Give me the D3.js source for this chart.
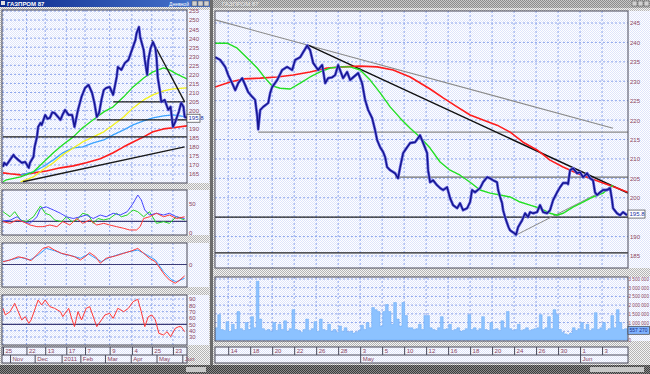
<!DOCTYPE html>
<html>
<head>
<meta charset="utf-8">
<script src="https://cdn.jsdelivr.net/npm/d3@7"></script>
<style>
body { margin: 0; background: #c0c0c0; }
svg { display: block; font-family: "Liberation Sans", "DejaVu Sans", sans-serif; }
</style>
</head>
<body>
<script>
// ---- left window (daily, trading-day index 0..157 = 25 Oct 2010 .. 3 Jun 2011)
var leftClose = [[0,169],[1,171.2],[3,170],[6,172.8],[9,175.6],[10,174.5],[13,172.8],[16,171.2],[19,171.7],[22,168.4],
  [23,171.2],[26,174.5],[27,180],[29,185.5],[30,191],[32,193.2],[33,192.1],[36,197.6],[38,195.5],[40,196],[42,199],[44,198.7],
  [47,196.5],[49,194.9],[51,198],[53,200.4],[56,197.6],[59,197.6],[61,191],[64,200.4],[67,207.6],[70,212.5],[73,214.2],
  [76,209.8],[78,204.3],[80,196.5],[82,198.7],[84,205.9],[86,211.4],[88,212.5],[91,213.1],[94,208.7],[97,218.6],[98,224.1],
  [101,222.5],[104,226.3],[107,228],[110,233.5],[113,239],[114,242.9],[116,246.2],[117,240.7],[120,233.5],[121,228],
  [123,219.7],[124,228],[126,234.6],[128,237.9],[130,234.6],[131,229.1],[132,218.6],[134,210.3],[135,204.8],[138,205.9],
  [141,200.4],[143,202.1],[145,191],[147,193.8],[150,199.3],[152,204.3],[154,202.1],[155,196.5],[157,196]];
var leftGreen = [[0,160.7],[3,161.8],[15,163.4],[26,166.2],[34,171.2],[43,176.7],[51,181.1],[60,185.5],[68,190.5],[77,194.9],
  [86,199.3],[94,202.1],[103,207.6],[111,213.1],[120,218],[128,221.4],[137,223.6],[142,222.5],[148,220.3],[157,217.5]];
var leftYellow = [[15,160.7],[26,163.4],[34,167.3],[43,171.2],[51,175.6],[60,179.4],[68,182.7],[77,185.5],[86,188.3],
  [94,192.1],[103,196.5],[111,201.5],[120,205.9],[128,208.7],[137,210.9],[145,212],[157,212.5]];
var leftBlue = [[15,164.5],[26,166.2],[34,169],[43,172.8],[51,176.7],[60,179.4],[68,180],[77,182.2],[86,183.8],[94,186.6],
  [103,189.4],[111,192.1],[120,194.3],[128,196],[137,197.1],[145,197.6],[157,196.5]];
var leftRed = [[0,165.6],[6,165.1],[15,164.5],[26,165.6],[37,166.7],[49,168.4],[60,169.5],[71,171.2],[83,173.4],[94,176.7],
  [103,180],[111,182.7],[120,185.5],[128,188.3],[137,189.9],[145,190.5],[157,191.6]];
var leftLevels = [[0,157,185.5],[80,157,194.9],[94,155,204.8]];      // [from, to, price]
var leftTrends = [[17,160.7,155,180],[127,239,155,204.8]];             // [i0, p0, i1, p1]

var dmiBlue = [[0,21],[6,22],[12,28],[17,19.5],[23,16.7],[29,28],[32,42.5],[37,45],[43,39.7],[49,34],[54,28],[60,25],[66,28],
  [71,31],[77,25],[83,31],[88,28],[94,34],[100,31],[106,36.7],[111,51],[115,65.5],[118,57],[121,39.7],[125,31],[131,34],
  [137,31],[142,34],[148,28],[155,25]];
var dmiGreen = [[0,36.7],[6,28],[10,36.7],[15,22.4],[20,19.5],[26,28],[32,46.6],[36,34],[40,31],[44,22.4],[50,19.5],[54,28],
  [59,19.5],[63,22.4],[68,34],[73,31],[77,16.7],[81,25],[86,22.4],[91,25],[97,34],[101,28],[106,31],[111,39.7],[115,36.7],
  [120,28],[125,36.7],[131,16.7],[137,19.5],[142,16.7],[148,28],[155,22.4]];
var dmiRed = [[0,19.5],[6,16.7],[12,22.4],[17,19.5],[23,13.8],[29,10.9],[34,10.9],[40,13.8],[46,10.9],[51,19.5],[57,13.8],
  [63,25],[68,16.7],[74,22.4],[80,13.8],[86,16.7],[91,13.8],[97,10.9],[103,8.1],[108,5.2],[114,5.2],[117,10.9],[120,25],
  [125,28],[131,34],[137,28],[142,31],[148,25],[155,28]];
var macdRed = [[0,1.3],[6,2.1],[13,3.6],[19,2.9],[24,1.8],[30,5.2],[34,7.5],[39,8.3],[44,6.7],[50,5.2],[56,4.4],[61,3.6],
  [66,2.1],[70,3.6],[74,5.5],[79,3.6],[83,0.6],[88,2.9],[96,4],[103,5.2],[110,6.4],[115,7.5],[120,5.2],[125,2.9],[130,1.3],
  [134,-1.8],[138,-4.9],[142,-7.2],[147,-8.7],[151,-7.2],[155,-5.3]];
var macdBlue = [[0,1.3],[6,2.1],[15,3.3],[23,2.1],[30,4.4],[37,7.5],[44,6.4],[51,4.9],[59,4],[66,2.9],[73,4.9],[79,2.9],
  [84,1.3],[91,3.3],[100,4.9],[108,6],[115,6.7],[123,4.4],[130,2.1],[137,-3.3],[144,-7.2],[148,-8],[155,-6.4]];
var rsiLine = [[0,75.3],[2,64.8],[6,70],[10,83.2],[13,70],[16,56.9],[19,62.1],[22,51.6],[24,56.9],[27,72.6],[30,88.4],
  [33,80.6],[36,88.4],[40,77.9],[44,75.3],[49,70],[51,62.1],[56,75.3],[59,56.9],[61,46.3],[64,70],[67,56.9],[71,75.3],
  [74,77.9],[78,56.9],[80,46.3],[84,56.9],[87,64.8],[91,67.4],[94,59.5],[98,75.3],[103,70],[107,75.3],[111,85.8],[115,89.6],
  [118,70],[121,46.3],[124,62.1],[127,64.8],[130,56.9],[133,35.8],[137,33.2],[140,38.4],[143,30.5],[147,43.7],[150,46.3],
  [152,46.3],[155,38.4]];

var leftDayTicks = [0, 20, 36, 54, 70, 91, 110, 127, 145];
var leftDayLabels = ["25", "22", "13", "17", "7", "9", "4", "25", "23"];
var leftMonthTicks = [6, 27, 50, 66, 87, 109, 131, 153];
var leftMonthLabels = ["Nov", "Dec", "2011", "Feb", "Mar", "Apr", "May", "Jun"];
var leftPriceTicks = d3.range(165, 256, 5);
var rsiTicks = [30, 40, 50, 60, 70, 80, 90];

// ---- right window (intraday, x in trading days from 13 Apr 2011)
var rightClose = [[-0.18,236.2],[0.27,235.5],[0.73,233.7],[1.0,231.6],[1.36,229.5],[1.64,227.7],[1.91,229.5],[2.27,230.8],
  [2.55,229],[2.82,227.2],[3.18,226],[3.45,225.2],[3.64,221],[3.73,217.6],[3.91,222.6],[4.18,223.4],[4.64,224.4],[4.82,227],
  [5.0,228.5],[5.45,230.3],[5.91,232.9],[6.36,233.7],[6.82,232.9],[7.09,235.5],[7.55,236.2],[8.18,239.2],[8.45,238],
  [8.73,234.7],[9.18,232.9],[9.55,234.2],[9.82,229.5],[10.09,230.8],[10.45,231],[10.73,231.6],[11.0,234.2],[11.45,230.8],
  [11.82,232.4],[12.09,230.3],[12.36,231],[12.82,232.1],[13.18,229.5],[13.45,225.2],[13.73,222.6],[14.09,220.5],
  [14.36,217.4],[14.55,214.8],[14.82,213],[15.09,211.8],[15.27,210.5],[15.45,207.9],[15.73,207.1],[16.18,206.3],[16.45,205],
  [16.64,207.9],[16.91,211.5],[17.27,213],[17.55,214.1],[18.0,214.3],[18.45,216.1],[18.73,214.1],[19.09,211.5],[19.18,207.1],
  [19.36,204],[19.64,204.5],[20.0,203.2],[20.27,202.5],[20.55,202],[20.91,202.7],[21.18,199.9],[21.45,198.1],[21.82,197.3],
  [22.09,198.6],[22.36,196.8],[22.73,197.3],[23.0,198.9],[23.18,202],[23.45,201.4],[23.91,202.5],[24.18,204],[24.55,205.3],
  [24.82,205],[25.09,204.5],[25.45,204],[25.55,202],[25.73,200.2],[25.91,198.6],[26.0,196.8],[26.18,195],[26.36,193.5],
  [26.5,192.4],[26.64,191.6],[26.91,191.1],[27.18,190.5],[27.36,192.4],[27.73,194.2],[28.0,196],[28.27,195],[28.45,196.3],
  [28.73,196],[29.09,196.3],[29.36,198.1],[29.64,196.3],[30.0,196],[30.27,196.8],[30.55,199.4],[30.91,201.4],[31.18,202.7],
  [31.45,203.8],[31.82,203.8],[31.91,203.5],[32.09,207.1],[32.36,207.6],[32.73,206.3],[33.0,206.6],[33.27,205.3],
  [33.64,206.3],[33.91,205],[34.18,204.5],[34.36,201.4],[34.55,200.7],[34.82,201.4],[35.09,202],[35.45,202],[35.73,202.5],
  [35.91,199.4],[36.0,197.3],[36.36,196],[36.64,195.5],[36.91,196.3],[37.27,195.5]];
var rightGreen = [[-0.2,239.8],[0.91,239.8],[1.82,238.5],[2.73,236],[3.64,233.4],[4.36,230.8],[5.0,228.8],[5.73,228.2],
  [6.64,228],[7.55,229.5],[8.45,231.1],[9.36,232.4],[10.27,233.4],[11.18,233.7],[12.09,233.7],[13.0,232.9],[13.91,230.3],
  [14.82,227],[15.73,223.4],[16.64,220.5],[17.55,217.9],[18.45,215.6],[19.36,212.8],[20.27,209.2],[21.18,207.1],
  [22.09,205.8],[23.0,204],[23.91,202],[24.82,201.2],[25.73,200.7],[26.64,200.2],[27.55,198.9],[28.45,198.1],[29.36,197.3],
  [30.27,196],[30.91,195.5],[31.45,196],[32.36,197.6],[33.27,198.9],[34.18,200.2],[35.09,201.2],[35.73,202.7],[36.0,203.2]];
var rightRed = [[-0.2,228.5],[1.18,229.8],[2.36,230.6],[3.91,230.8],[5.45,231.1],[6.91,231.6],[8.45,232.4],[10.0,233.4],
  [11.45,233.7],[13.0,233.9],[14.55,233.7],[16.0,232.9],[17.55,231.1],[19.36,228],[20.55,225.7],[21.82,223.4],[23.0,221.3],
  [24.18,220],[25.45,218.7],[26.64,216.9],[27.82,214.3],[29.09,212.3],[30.27,209.7],[31.45,207.9],[32.73,206.3],[33.91,205],
  [35.09,203.8],[36.36,202.5],[37.36,201.4]];
// volume, thousands, one value per quarter day from day -0.2
var rightVolume = [700,1450,600,550,1050,500,900,600,1630,650,550,1000,600,1340,700,3370,1200,650,550,600,
  500,1000,550,900,600,1100,500,650,1740,600,550,450,600,1200,550,650,1050,500,1200,600,
  550,900,500,600,450,800,500,700,450,500,400,450,550,850,600,1000,700,1860,1740,1630,
  800,1630,2035,1630,900,2150,1200,800,2150,1400,700,700,600,650,900,600,1400,1400,700,600,
  550,700,1340,600,650,900,550,600,700,500,550,650,1450,600,700,550,650,1340,600,550,
  1000,600,650,550,1100,700,1630,650,550,600,900,550,600,700,550,600,650,700,1450,600,
  700,1340,650,1740,1450,600,450,350,300,400,700,550,650,1000,600,900,550,650,1570,600,
  700,1000,550,650,1400,700,1740,1000,600,650,600];
var rightLevels = [[3.73,37.36,216.9,"#8a8a8a"],[16.18,37.36,205.3,"#707070"],[-0.2,37.36,195,"#202020"],[-0.2,37.36,185.8,"#202020"]];
var rightTrends = [[-0.18,245.8,36.0,217.9,"#8a8a8a",1.1],[8.27,239.3,37.36,201.2,"#101010",1.5],[27.18,190.4,35.73,202.7,"#8a8a8a",1]];

var rightDayTicks = d3.range(1, 36, 2);
var rightDayLabels = ["14","18","20","22","26","28","3","5","10","12","16","18","20","24","26","30","1","3"];
var rightMonthTicks = [13, 33];
var rightMonthLabels = ["May", "Jun"];
var rightPriceTicks = d3.range(185, 246, 5);
var volumeTicks = d3.range(0, 3501, 500);
var lastPrice = 195.8;
var lastVolume = 557.27;

// ---- scales
var xL = d3.scaleLinear().domain([0, 157]).range([3, 187]);
var yL = d3.scaleLinear().domain([165, 255]).range([174, 11]);
var yDmi = d3.scaleLinear().domain([0, 50]).range([233, 204]);
var yMacd = d3.scaleLinear().domain([-10, 10]).range([286, 243]);
var yRsi = d3.scaleLinear().domain([30, 90]).range([337, 299]);
var xR = d3.scaleLinear().domain([-0.2, 37.36]).range([215, 628]);
var yR = d3.scaleLinear().domain([185, 245]).range([256, 23]);
var yV = d3.scaleLinear().domain([0, 3500]).range([340, 279]);

var svg = d3.select("body").append("svg").attr("width", 650).attr("height", 374);
var defs = svg.append("defs");

function checker(id, a, b) {
  var p = defs.append("pattern").attr("id", id).attr("width", 2).attr("height", 2)
    .attr("patternUnits", "userSpaceOnUse");
  p.append("rect").attr("width", 2).attr("height", 2).attr("fill", a);
  p.append("rect").attr("width", 1).attr("height", 1).attr("fill", b);
  p.append("rect").attr("x", 1).attr("y", 1).attr("width", 1).attr("height", 1).attr("fill", b);
}
checker("bgGray", "#f4f4f4", "#b4b4b4");
checker("plotBg", "#ffffff", "#dfe5fb");
checker("darkBar", "#8a8a8a", "#3c3c3c");
checker("titleGray", "#c8c8c8", "#8c8c8c");
var grad = defs.append("linearGradient").attr("id", "titleBlue");
grad.append("stop").attr("offset", "0%").attr("stop-color", "#0c2a8c");
grad.append("stop").attr("offset", "100%").attr("stop-color", "#4a78d0");

// background + window chrome
svg.append("rect").attr("width", 650).attr("height", 374).attr("fill", "url(#bgGray)");
svg.append("rect").attr("x", 0).attr("y", 0).attr("width", 211).attr("height", 7).attr("fill", "url(#titleBlue)");
svg.append("rect").attr("x", 1).attr("y", 1).attr("width", 4).attr("height", 4).attr("fill", "#e0e0e0");
svg.append("text").attr("x", 7).attr("y", 6).attr("font-size", 6).attr("font-weight", "bold")
  .attr("fill", "#ffffff").text("ГАЗПРОМ 87");
svg.append("text").attr("x", 169).attr("y", 6).attr("font-size", 5).attr("fill", "#ffffff").text("Дневной");
[192, 198, 204].forEach(function (bx) {
  svg.append("rect").attr("x", bx).attr("y", 1).attr("width", 5).attr("height", 5)
    .attr("fill", "#d0d0d0").attr("stroke", "#505050").attr("stroke-width", 0.5);
});
svg.append("rect").attr("x", 213).attr("y", 0).attr("width", 437).attr("height", 8).attr("fill", "url(#titleGray)");
svg.append("text").attr("x", 222).attr("y", 6).attr("font-size", 6).attr("fill", "#e8e8e8").text("ГАЗПРОМ 87");
[632, 638, 644].forEach(function (bx) {
  svg.append("rect").attr("x", bx).attr("y", 1).attr("width", 5).attr("height", 5)
    .attr("fill", "#d0d0d0").attr("stroke", "#505050").attr("stroke-width", 0.5);
});
svg.append("rect").attr("x", 210).attr("y", 0).attr("width", 3).attr("height", 374).attr("fill", "#6c6c6c");
svg.append("rect").attr("x", 0).attr("y", 365).attr("width", 650).attr("height", 9).attr("fill", "url(#darkBar)");
svg.append("rect").attr("x", 186).attr("y", 367).attr("width", 20).attr("height", 5).attr("fill", "#c8c8c8");
svg.append("rect").attr("x", 590).attr("y", 367).attr("width", 54).attr("height", 5).attr("fill", "#c8c8c8");

// panels
var clipN = 0;
function panel(x0, y0, x1, y1, axisRight) {
  svg.append("rect").attr("x", x1).attr("y", y0).attr("width", axisRight - x1).attr("height", y1 - y0)
    .attr("fill", "url(#plotBg)");
  svg.append("rect").attr("x", x0).attr("y", y0).attr("width", x1 - x0).attr("height", y1 - y0)
    .attr("fill", "url(#plotBg)");
  var id = "clip" + (clipN++);
  defs.append("clipPath").attr("id", id).append("rect")
    .attr("x", x0).attr("y", y0).attr("width", x1 - x0).attr("height", y1 - y0);
  var g = svg.append("g").attr("clip-path", "url(#" + id + ")");
  var frame = function () {
    svg.append("rect").attr("x", x0).attr("y", y0).attr("width", x1 - x0).attr("height", y1 - y0)
      .attr("fill", "none").attr("stroke", "#4a4a5a").attr("stroke-width", 1);
  };
  return { g: g, frame: frame, x0: x0, x1: x1, y0: y0, y1: y1 };
}

function vgrid(p, xs, ticks) {
  p.g.selectAll(null).data(ticks).enter().append("line")
    .attr("x1", function (d) { return xs(d); }).attr("x2", function (d) { return xs(d); })
    .attr("y1", p.y0).attr("y2", p.y1)
    .attr("stroke", "#8ea6ec").attr("stroke-dasharray", "2,2");
}
function hgrid(p, ys, ticks) {
  p.g.selectAll(null).data(ticks).enter().append("line")
    .attr("x1", p.x0).attr("x2", p.x1)
    .attr("y1", function (d) { return ys(d); }).attr("y2", function (d) { return ys(d); })
    .attr("stroke", "#8ea6ec").attr("stroke-dasharray", "2,2");
}
function yAxis(xpos, ys, ticks, fmt, size) {
  var ax = svg.append("g").attr("transform", "translate(" + xpos + ",0)")
    .call(d3.axisRight(ys).tickValues(ticks).tickSize(0).tickPadding(2).tickFormat(fmt || d3.format("d")));
  ax.select(".domain").remove();
  ax.selectAll("text").attr("font-size", size || 6).attr("fill", "#8c4660")
    .attr("font-family", "Liberation Sans, sans-serif");
  return ax;
}
function path(g, data, xs, ys, color, w) {
  g.append("path").datum(data)
    .attr("d", d3.line().x(function (d) { return xs(d[0]); }).y(function (d) { return ys(d[1]); }))
    .attr("fill", "none").attr("stroke", color).attr("stroke-width", w)
    .attr("stroke-linejoin", "round");
}
function priceLine(g, data, xs, ys) {
  path(g, data, xs, ys, "#6b6be0", 2.8);
  path(g, data, xs, ys, "#14148e", 1.4);
}
function tag(x, y, w, txt, fill, color, size) {
  svg.append("rect").attr("x", x).attr("y", y - 4).attr("width", w).attr("height", 8)
    .attr("fill", fill).attr("stroke", "#404040").attr("stroke-width", 0.7);
  svg.append("text").attr("x", x + 1.5).attr("y", y + 2).attr("font-size", size || 6).attr("fill", color).text(txt);
}
function dateAxis(xs, x0, x1, dayTicks, dayLabels, monthTicks, monthLabels) {
  var g = svg.append("g");
  g.append("rect").attr("x", x0).attr("y", 347).attr("width", x1 - x0).attr("height", 16)
    .attr("fill", "url(#plotBg)").attr("stroke", "#4a4a5a");
  g.append("line").attr("x1", x0).attr("x2", x1).attr("y1", 355).attr("y2", 355).attr("stroke", "#4a4a5a");
  var top = g.append("g").attr("transform", "translate(0,347)")
    .call(d3.axisBottom(xs).tickValues(dayTicks).tickSize(8).tickFormat(function (d, i) { return dayLabels[i]; }));
  var bot = g.append("g").attr("transform", "translate(0,355)")
    .call(d3.axisBottom(xs).tickValues(monthTicks).tickSize(8).tickFormat(function (d, i) { return monthLabels[i]; }));
  [top, bot].forEach(function (a) {
    a.select(".domain").remove();
    a.selectAll("line").attr("stroke", "#4a4a5a");
    a.selectAll("text").attr("text-anchor", "start").attr("x", 2).attr("y", 1.5).attr("dy", "0.71em")
      .attr("font-size", 6).attr("fill", "#8c4660").attr("font-family", "Liberation Sans, sans-serif");
  });
}

// ---- left window panels
var L1 = panel(2, 10, 187, 183, 209);
vgrid(L1, xL, leftDayTicks);
hgrid(L1, yL, leftPriceTicks);
path(L1.g, leftRed, xL, yL, "#ff1c1c", 1.6);
path(L1.g, leftBlue, xL, yL, "#3aa2ff", 1.3);
path(L1.g, leftYellow, xL, yL, "#f2f21a", 1.3);
path(L1.g, leftGreen, xL, yL, "#1ee01e", 1.3);
L1.g.selectAll(null).data(leftLevels).enter().append("line")
  .attr("x1", function (d) { return xL(d[0]); }).attr("x2", function (d) { return xL(d[1]); })
  .attr("y1", function (d) { return yL(d[2]); }).attr("y2", function (d) { return yL(d[2]); })
  .attr("stroke", "#1a1a1a").attr("stroke-width", 1.3);
L1.g.selectAll(null).data(leftTrends).enter().append("line")
  .attr("x1", function (d) { return xL(d[0]); }).attr("y1", function (d) { return yL(d[1]); })
  .attr("x2", function (d) { return xL(d[2]); }).attr("y2", function (d) { return yL(d[3]); })
  .attr("stroke", "#1a1a1a").attr("stroke-width", 1.4);
priceLine(L1.g, leftClose, xL, yL);
L1.frame();
// the last-price tag covers the 195 tick, as in the terminal
yAxis(187, yL, leftPriceTicks.filter(function (d) { return Math.abs(d - lastPrice) > 3; }));
tag(187, yL(lastPrice), 13, "195.8", "#ffffff", "#2030a0");

var L2 = panel(2, 190, 187, 235, 209);
vgrid(L2, xL, leftDayTicks);
L2.g.append("line").attr("x1", L2.x0).attr("x2", L2.x1).attr("y1", yDmi(20)).attr("y2", yDmi(20))
  .attr("stroke", "#3c3c78").attr("stroke-width", 1.2);
path(L2.g, dmiGreen, xL, yDmi, "#22d422", 1);
path(L2.g, dmiBlue, xL, yDmi, "#4848ff", 1);
path(L2.g, dmiRed, xL, yDmi, "#ff3838", 1);
L2.frame();
yAxis(187, yDmi, [0, 50]);

var L3 = panel(2, 243, 187, 287, 209);
vgrid(L3, xL, leftDayTicks);
L3.g.append("line").attr("x1", L3.x0).attr("x2", L3.x1).attr("y1", yMacd(0)).attr("y2", yMacd(0))
  .attr("stroke", "#3c3c78").attr("stroke-width", 1.2);
path(L3.g, macdBlue, xL, yMacd, "#3aa2ff", 1);
path(L3.g, macdRed, xL, yMacd, "#ff3838", 1);
L3.frame();
yAxis(187, yMacd, [0]);

var L4 = panel(2, 295, 187, 345, 209);
vgrid(L4, xL, leftDayTicks);
hgrid(L4, yRsi, rsiTicks);
L4.g.append("line").attr("x1", L4.x0).attr("x2", L4.x1).attr("y1", yRsi(50)).attr("y2", yRsi(50))
  .attr("stroke", "#3c3c78").attr("stroke-width", 1.2);
path(L4.g, rsiLine, xL, yRsi, "#ff3838", 1);
L4.frame();
yAxis(187, yRsi, rsiTicks);

dateAxis(xL, 2, 187, leftDayTicks, leftDayLabels, leftMonthTicks, leftMonthLabels);

// ---- right window panels
var R1 = panel(215, 11, 628, 268, 650);
vgrid(R1, xR, rightDayTicks);
hgrid(R1, yR, rightPriceTicks);
R1.g.selectAll(null).data(rightLevels).enter().append("line")
  .attr("x1", function (d) { return xR(d[0]); }).attr("x2", function (d) { return xR(d[1]); })
  .attr("y1", function (d) { return yR(d[2]); }).attr("y2", function (d) { return yR(d[2]); })
  .attr("stroke", function (d) { return d[3]; }).attr("stroke-width", 1.2);
R1.g.selectAll(null).data(rightTrends).enter().append("line")
  .attr("x1", function (d) { return xR(d[0]); }).attr("y1", function (d) { return yR(d[1]); })
  .attr("x2", function (d) { return xR(d[2]); }).attr("y2", function (d) { return yR(d[3]); })
  .attr("stroke", function (d) { return d[4]; }).attr("stroke-width", function (d) { return d[5]; });
path(R1.g, rightRed, xR, yR, "#ff1c1c", 1.6);
path(R1.g, rightGreen, xR, yR, "#22e022", 1.4);
priceLine(R1.g, rightClose, xR, yR);
R1.frame();
yAxis(628, yR, rightPriceTicks.filter(function (d) { return Math.abs(d - lastPrice) > 3; }));
tag(628, yR(lastPrice), 17, "195.8", "#ffffff", "#2030a0");

var R2 = panel(215, 277, 628, 341, 650);
vgrid(R2, xR, rightDayTicks);
hgrid(R2, yV, volumeTicks);
R2.g.append("path").datum(rightVolume)
  .attr("d", d3.area().curve(d3.curveStepAfter)
    .x(function (d, i) { return xR(-0.2 + i * 0.25); })
    .y0(yV(0)).y1(function (d) { return yV(d); }))
  .attr("fill", "#8cc2ff").attr("stroke", "#6aaaf4").attr("stroke-width", 0.5);
R2.frame();
yAxis(627, yV, volumeTicks.filter(function (d) { return d !== 500; }),
  function (d) { return d === 0 ? "0" : d3.format(",")(d * 1000).replace(/,/g, " "); }, 4.6)
  .selectAll("text").attr("x", 1.5);
tag(628, yV(lastVolume), 21.5, "557 270", "#7fb2ff", "#1a2a80", 5);

dateAxis(xR, 215, 628, rightDayTicks, rightDayLabels, rightMonthTicks, rightMonthLabels);
</script>
</body>
</html>
